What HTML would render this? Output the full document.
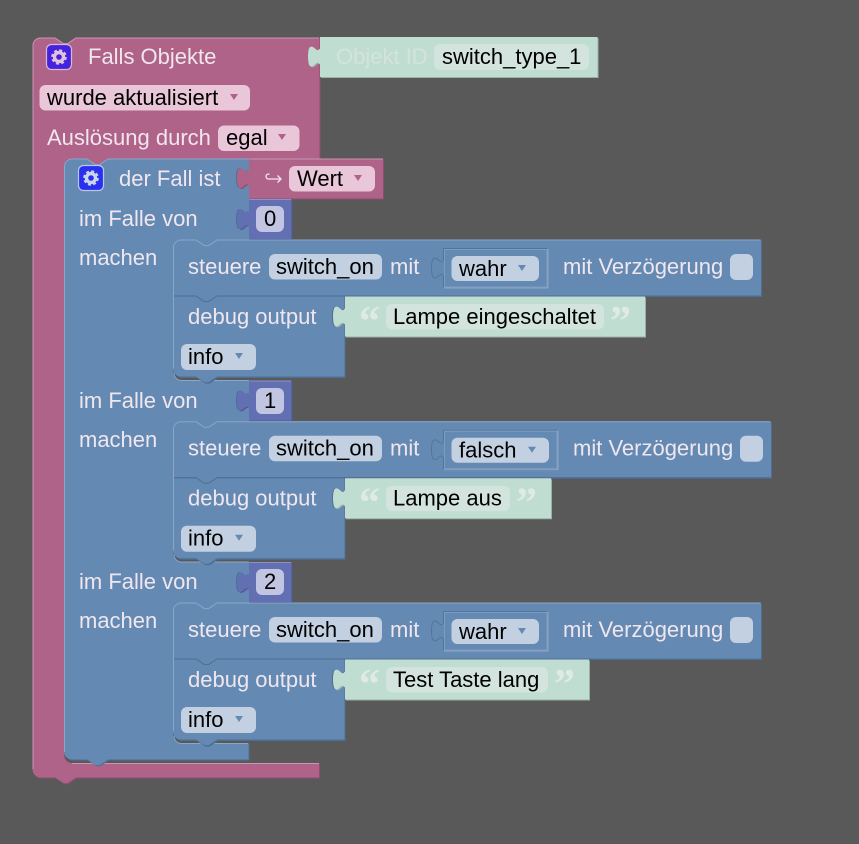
<!DOCTYPE html>
<html><head><meta charset="utf-8"><style>
html,body{margin:0;padding:0;background:#595959}
svg{display:block}
text{font-family:"Liberation Sans",sans-serif;font-size:22px}
.w{fill:#f0e6ee}
.k{fill:#000}
.b{fill:#648ab4}
.bd{fill:#4f6f92}
.bl{fill:none;stroke:#8ba6c6;stroke-width:1}
.ln{fill:none;stroke:#4f6f92;stroke-width:1}
.f{fill:#c3d0e1}
.tri{fill:#648ab4}
.m{fill:#c0ddd1}
.md{fill:#9ab1a7}
.mf{fill:#d3e3dd}
.q{font-family:"Liberation Serif",serif;font-size:42px;font-weight:bold;fill:#dfeae5}
</style></head><body>
<svg width="859" height="844" viewBox="0 0 859 844" xmlns="http://www.w3.org/2000/svg">
<rect width="859" height="844" fill="#595959"/>

<!-- outer pink -->
<path fill="#8c4e6e" transform="translate(1,1)" d="M32.5,45.5a8,8 0 0 1 8,-8H55l8.4,5.6h4.2L76,37.5H319.5V158.5H108l-8.4,5.6h-4.2L87,158.5H72a8,8 0 0 0 -8,8V755a8,8 0 0 0 8,8H319V777.5H76l-8.4,5.6h-4.2L55,777.5H40.5a8,8 0 0 1 -8,-8Z"/>
<path fill="#b06389" d="M32.5,45.5a8,8 0 0 1 8,-8H55l8.4,5.6h4.2L76,37.5H319.5V158.5H108l-8.4,5.6h-4.2L87,158.5H72a8,8 0 0 0 -8,8V755a8,8 0 0 0 8,8H319V777.5H76l-8.4,5.6h-4.2L55,777.5H40.5a8,8 0 0 1 -8,-8Z"/>
<path fill="none" stroke="#cb94b1" d="M33,769V45.5a7.5,7.5 0 0 1 7.500,-7.500H55l8.400,5.600h4.200L76,38H319M72,763.500H319"/>

<!-- icon -->
<rect x="46.5" y="44.5" width="25" height="25" rx="5" fill="#4422e0" stroke="#d8b9d2" stroke-width="1.2"/>
<circle cx="59" cy="57" r="4.5" fill="none" stroke="#dfc3da" stroke-width="3.4"/>
<circle cx="59" cy="57" r="6.8" fill="none" stroke="#dfc3da" stroke-width="2" stroke-dasharray="3 2.34"/>
<text x="88" y="64" class="w">Falls Objekte</text>

<!-- Objekt ID -->
<path fill="#9ab1a7" transform="translate(1,1)" d="M320,37H597.5V77H320V64.5c-2,-2.500 -3,-2 -5,0c-2,2 -4,2.500 -5.500,1c-2,-3 -2,-15 0,-18c1.500,-1.500 3.500,-1 5.500,1c2,2 3,2.500 5,0Z"/>
<path class="m" d="M320,37H597.5V77H320V64.5c-2,-2.500 -3,-2 -5,0c-2,2 -4,2.500 -5.500,1c-2,-3 -2,-15 0,-18c1.500,-1.500 3.500,-1 5.500,1c2,2 3,2.500 5,0Z"/>
<text x="336" y="64" fill="#d3e3dd">Objekt ID</text>
<rect x="434" y="44" width="155" height="26" rx="6" class="mf"/>
<text x="442" y="64" class="k">switch_type_1</text>

<!-- wurde aktualisiert -->
<rect x="39.5" y="85" width="210.500" height="25.500" rx="6" fill="#e9c6d8"/>
<text x="47" y="105" class="k">wurde aktualisiert</text>
<polygon points="230,94 238,94 234,100" fill="#b06389"/>
<text x="47" y="145" class="w">Auslösung durch</text>
<rect x="218" y="125.500" width="81.500" height="25.500" rx="6" fill="#e9c6d8"/>
<text x="226" y="145" class="k">egal</text>
<polygon points="278,134 286,134 282,140" fill="#b06389"/>

<!-- blue case block -->
<path class="bd" transform="translate(1,1)" d="M64,166.500a8,8 0 0 1 8,-8H87l8.400,5.600h4.200L108,158.500H249V239.500H217l-8.400,5.600h-4.200L196,239.500H181a8,8 0 0 0 -8,8V372a8,8 0 0 0 8,8H249V421.200H217l-8.400,5.600h-4.200L196,421.200H181a8,8 0 0 0 -8,8V553.500a8,8 0 0 0 8,8H249V602.500H217l-8.400,5.600h-4.200L196,602.500H181a8,8 0 0 0 -8,8V735a8,8 0 0 0 8,8H248.500V759.500H108l-8.400,5.600h-4.200L87,759.500H72a8,8 0 0 1 -8,-8Z"/>
<path class="b" d="M64,166.500a8,8 0 0 1 8,-8H87l8.400,5.600h4.200L108,158.500H249V239.500H217l-8.400,5.600h-4.200L196,239.500H181a8,8 0 0 0 -8,8V372a8,8 0 0 0 8,8H249V421.200H217l-8.400,5.600h-4.200L196,421.200H181a8,8 0 0 0 -8,8V553.500a8,8 0 0 0 8,8H249V602.500H217l-8.400,5.600h-4.200L196,602.500H181a8,8 0 0 0 -8,8V735a8,8 0 0 0 8,8H248.500V759.500H108l-8.400,5.600h-4.200L87,759.500H72a8,8 0 0 1 -8,-8Z"/>
<path class="bl" d="M64.500,752V166.500a7.500,7.500 0 0 1 7.500,-7.500H87l8.400,5.600h4.200L108,159H249M174,373a7.500,7.500 0 0 0 7.500,7.500H249M174,554.500a7.500,7.500 0 0 0 7.500,7.500H249M174,736a7.500,7.500 0 0 0 7.500,7.500H248"/>

<rect x="78.500" y="165.500" width="25" height="25" rx="5" fill="#2a30f0" stroke="#b8c8e4" stroke-width="1.200"/>
<circle cx="91" cy="178" r="4.500" fill="none" stroke="#c9d6ea" stroke-width="3.400"/>
<circle cx="91" cy="178" r="6.800" fill="none" stroke="#c9d6ea" stroke-width="2" stroke-dasharray="3 2.340"/>
<text x="119" y="186" class="w">der Fall ist</text>

<!-- Wert -->
<path class="bd" transform="translate(-1,0)" d="M249,158.500V186c-2,-2.500 -3,-2 -5,0c-2,2 -4,2.500 -5.500,1c-2,-3 -2,-15 0,-18c1.500,-1.500 3.500,-1 5.500,1c2,2 3,2.500 5,0Z"/>
<path fill="#8c4e6e" transform="translate(1,1)" d="M249,158.500H383V198.500H249V186c-2,-2.500 -3,-2 -5,0c-2,2 -4,2.500 -5.500,1c-2,-3 -2,-15 0,-18c1.500,-1.500 3.500,-1 5.500,1c2,2 3,2.500 5,0Z"/>
<path fill="#b06389" d="M249,158.500H383V198.500H249V186c-2,-2.500 -3,-2 -5,0c-2,2 -4,2.500 -5.500,1c-2,-3 -2,-15 0,-18c1.500,-1.500 3.500,-1 5.500,1c2,2 3,2.500 5,0Z"/>
<path d="M249.500,159H383" stroke="#cb94b1" fill="none"/>
<path d="M269.500,174h-1a2.500,2.500 0 0 0 0,5h12.500m-3.500,-3.500l3.500,3.500l-3.500,3.500" fill="none" stroke="#f0e6ee" stroke-width="1.300"/>
<rect x="289" y="166" width="86" height="25.500" rx="6" fill="#e9c6d8"/>
<text x="297" y="186" class="k">Wert</text>
<polygon points="354,175 362,175 358,181" fill="#b06389"/>

<text x="79" y="226" class="w">im Falle von</text>
<text x="79" y="265" class="w">machen</text>
<text x="79" y="408" class="w">im Falle von</text>
<text x="79" y="447" class="w">machen</text>
<text x="79" y="589" class="w">im Falle von</text>
<text x="79" y="628" class="w">machen</text>

<!-- number 0 -->
<path class="bd" transform="translate(-1,0)" d="M249,199V227c-2,-2.500 -3,-2 -5,0c-2,2 -4,2.500 -5.500,1c-2,-3 -2,-15 0,-18c1.500,-1.500 3.500,-1 5.500,1c2,2 3,2.500 5,0Z"/>
<path fill="#4e5890" transform="translate(1,1)" d="M249,199H291.500V239H249V227c-2,-2.500 -3,-2 -5,0c-2,2 -4,2.500 -5.500,1c-2,-3 -2,-15 0,-18c1.500,-1.500 3.500,-1 5.500,1c2,2 3,2.500 5,0Z"/>
<path fill="#636fb3" d="M249,199H291.500V239H249V227c-2,-2.500 -3,-2 -5,0c-2,2 -4,2.500 -5.500,1c-2,-3 -2,-15 0,-18c1.500,-1.500 3.500,-1 5.500,1c2,2 3,2.500 5,0Z"/>
<path d="M249.500,199.500H291" stroke="#8a93c8" fill="none"/>
<rect x="256" y="206" width="28" height="26" rx="6" fill="#c1c5e1"/>
<text x="264" y="226" class="k">0</text>
<!-- number 1 -->
<path class="bd" transform="translate(-1,0)" d="M249,380.500V408.500c-2,-2.500 -3,-2 -5,0c-2,2 -4,2.500 -5.500,1c-2,-3 -2,-15 0,-18c1.500,-1.500 3.500,-1 5.500,1c2,2 3,2.500 5,0Z"/>
<path fill="#4e5890" transform="translate(1,1)" d="M249,380.500H291.500V420.500H249V408.500c-2,-2.500 -3,-2 -5,0c-2,2 -4,2.500 -5.500,1c-2,-3 -2,-15 0,-18c1.500,-1.500 3.500,-1 5.500,1c2,2 3,2.500 5,0Z"/>
<path fill="#636fb3" d="M249,380.500H291.500V420.500H249V408.500c-2,-2.500 -3,-2 -5,0c-2,2 -4,2.500 -5.500,1c-2,-3 -2,-15 0,-18c1.500,-1.500 3.500,-1 5.500,1c2,2 3,2.500 5,0Z"/>
<path d="M249.500,381H291" stroke="#8a93c8" fill="none"/>
<rect x="256" y="388" width="28" height="26" rx="6" fill="#c1c5e1"/>
<text x="264" y="408" class="k">1</text>
<!-- number 2 -->
<path class="bd" transform="translate(-1,0)" d="M249,562V590c-2,-2.500 -3,-2 -5,0c-2,2 -4,2.500 -5.500,1c-2,-3 -2,-15 0,-18c1.500,-1.500 3.500,-1 5.500,1c2,2 3,2.500 5,0Z"/>
<path fill="#4e5890" transform="translate(1,1)" d="M249,562H291.500V602H249V590c-2,-2.500 -3,-2 -5,0c-2,2 -4,2.500 -5.500,1c-2,-3 -2,-15 0,-18c1.500,-1.500 3.500,-1 5.500,1c2,2 3,2.500 5,0Z"/>
<path fill="#636fb3" d="M249,562H291.500V602H249V590c-2,-2.500 -3,-2 -5,0c-2,2 -4,2.500 -5.500,1c-2,-3 -2,-15 0,-18c1.500,-1.500 3.500,-1 5.500,1c2,2 3,2.500 5,0Z"/>
<path d="M249.500,562.500H291" stroke="#8a93c8" fill="none"/>
<rect x="256" y="569" width="28" height="26" rx="6" fill="#c1c5e1"/>
<text x="264" y="589" class="k">2</text>

<!-- GROUP 1 -->
<g>
<path class="bd" transform="translate(1,1)" d="M173,296.500V369a8,8 0 0 0 8,8H196l8.400,5.600h4.200L217,377H344.500V296.500ZM173,296.500V247.500a8,8 0 0 1 8,-8H196l8.400,5.600h4.200L217,239.500H761V296H173Z"/>
<path class="b" d="M173,296.500H344.500V376.500H217l-8.400,5.600h-4.200L196,376.500H181a8,8 0 0 1 -8,-8Z"/>
<path class="b" d="M173,247.500a8,8 0 0 1 8,-8H196l8.400,5.600h4.200L217,239.500H761V295.500H217l-8.400,5.600h-4.200L196,295.500H173Z"/>
<path class="bl" d="M173.500,368.500V247.500a7.500,7.500 0 0 1 7.500,-7.500H196l8.400,5.600h4.200L217,240H760"/>
<path class="ln" d="M174,296H196l8.400,5.600h4.200L217,296H761"/>
<path class="bd" transform="translate(-1,0)" d="M345,296.500V324.500c-2,-2.500 -3,-2 -5,0c-2,2 -4,2.500 -5.500,1c-2,-3 -2,-15 0,-18c1.500,-1.500 3.500,-1 5.500,1c2,2 3,2.500 5,0Z"/>
<path class="md" transform="translate(1,1)" d="M345,296.500H645V336.500H345V324.500c-2,-2.500 -3,-2 -5,0c-2,2 -4,2.500 -5.500,1c-2,-3 -2,-15 0,-18c1.500,-1.500 3.500,-1 5.500,1c2,2 3,2.500 5,0Z"/>
<path class="m" d="M345,296.500H645V336.500H345V324.500c-2,-2.500 -3,-2 -5,0c-2,2 -4,2.500 -5.500,1c-2,-3 -2,-15 0,-18c1.500,-1.500 3.500,-1 5.500,1c2,2 3,2.500 5,0Z"/>
<text x="188" y="274" class="w">steuere</text>
<rect x="269" y="254" width="113" height="25.500" rx="6" class="f"/>
<text x="276" y="274" class="k">switch_on</text>
<text x="390" y="274" class="w">mit</text>
<path class="b" stroke="#54759b" d="M443.500,248.500H548V288H443.500V276c-2,-2.500 -3,-2 -5,0c-2,2 -4,2.500 -5.500,1c-2,-3 -2,-15 0,-18c1.500,-1.500 3.500,-1 5.500,1c2,2 3,2.500 5,0Z"/>
<path d="M548,248.500V288H443.500" fill="none" stroke="#8ba6c6"/>
<rect x="444.500" y="249.500" width="102.500" height="37.500" fill="none" stroke="#7e9cc0"/>
<rect x="451.500" y="256" width="87.500" height="25" rx="6" class="f"/>
<text x="459" y="276" class="k">wahr</text>
<polygon points="518,265 526,265 522,271" class="tri"/>
<text x="563" y="274" class="w">mit Verzögerung</text>
<rect x="730" y="254" width="23" height="26" rx="6" class="f"/>
<text x="188" y="324" class="w">debug output</text>
<rect x="386" y="304" width="218" height="25.500" rx="6" class="mf"/>
<text x="393" y="324" class="k">Lampe eingeschaltet</text>
<text x="359" y="335" class="q">“</text>
<text x="610" y="335" class="q">”</text>
<rect x="181" y="344" width="75" height="26" rx="6" class="f"/>
<text x="188" y="364" class="k">info</text>
<polygon points="235,353 243,353 239,359" class="tri"/>
</g>

<!-- GROUP 2 -->
<g transform="translate(0,181.700)">
<path class="bd" transform="translate(1,1)" d="M173,296.500V369a8,8 0 0 0 8,8H196l8.400,5.600h4.200L217,377H344.500V296.500ZM173,296.500V247.500a8,8 0 0 1 8,-8H196l8.400,5.600h4.200L217,239.500H771V296H173Z"/>
<path class="b" d="M173,296.500H344.500V376.500H217l-8.400,5.600h-4.200L196,376.500H181a8,8 0 0 1 -8,-8Z"/>
<path class="b" d="M173,247.500a8,8 0 0 1 8,-8H196l8.400,5.600h4.200L217,239.500H771V295.500H217l-8.400,5.600h-4.200L196,295.500H173Z"/>
<path class="bl" d="M173.500,368.500V247.500a7.500,7.500 0 0 1 7.500,-7.500H196l8.400,5.600h4.200L217,240H770"/>
<path class="ln" d="M174,296H196l8.400,5.600h4.200L217,296H771"/>
<path class="bd" transform="translate(-1,0)" d="M345,296.500V324.500c-2,-2.500 -3,-2 -5,0c-2,2 -4,2.500 -5.500,1c-2,-3 -2,-15 0,-18c1.500,-1.500 3.500,-1 5.500,1c2,2 3,2.500 5,0Z"/>
<path class="md" transform="translate(1,1)" d="M345,296.500H551V336.500H345V324.500c-2,-2.500 -3,-2 -5,0c-2,2 -4,2.500 -5.500,1c-2,-3 -2,-15 0,-18c1.500,-1.500 3.500,-1 5.500,1c2,2 3,2.500 5,0Z"/>
<path class="m" d="M345,296.500H551V336.500H345V324.500c-2,-2.500 -3,-2 -5,0c-2,2 -4,2.500 -5.500,1c-2,-3 -2,-15 0,-18c1.500,-1.500 3.500,-1 5.500,1c2,2 3,2.500 5,0Z"/>
<text x="188" y="274" class="w">steuere</text>
<rect x="269" y="254" width="113" height="25.500" rx="6" class="f"/>
<text x="276" y="274" class="k">switch_on</text>
<text x="390" y="274" class="w">mit</text>
<path class="b" stroke="#54759b" d="M443.500,248.500H558V288H443.500V276c-2,-2.500 -3,-2 -5,0c-2,2 -4,2.500 -5.500,1c-2,-3 -2,-15 0,-18c1.500,-1.500 3.500,-1 5.500,1c2,2 3,2.500 5,0Z"/>
<path d="M558,248.500V288H443.500" fill="none" stroke="#8ba6c6"/>
<rect x="444.500" y="249.500" width="112.500" height="37.500" fill="none" stroke="#7e9cc0"/>
<rect x="451.500" y="256" width="97.500" height="25" rx="6" class="f"/>
<text x="459" y="276" class="k">falsch</text>
<polygon points="528,265 536,265 532,271" class="tri"/>
<text x="573" y="274" class="w">mit Verzögerung</text>
<rect x="740" y="254" width="23" height="26" rx="6" class="f"/>
<text x="188" y="324" class="w">debug output</text>
<rect x="386" y="304" width="124" height="25.500" rx="6" class="mf"/>
<text x="393" y="324" class="k">Lampe aus</text>
<text x="359" y="335" class="q">“</text>
<text x="516" y="335" class="q">”</text>
<rect x="181" y="344" width="75" height="26" rx="6" class="f"/>
<text x="188" y="364" class="k">info</text>
<polygon points="235,353 243,353 239,359" class="tri"/>
</g>

<!-- GROUP 3 -->
<g transform="translate(0,363)">
<path class="bd" transform="translate(1,1)" d="M173,296.500V369a8,8 0 0 0 8,8H196l8.400,5.600h4.200L217,377H344.500V296.500ZM173,296.500V247.500a8,8 0 0 1 8,-8H196l8.400,5.600h4.200L217,239.500H761V296H173Z"/>
<path class="b" d="M173,296.500H344.500V376.500H217l-8.400,5.600h-4.200L196,376.500H181a8,8 0 0 1 -8,-8Z"/>
<path class="b" d="M173,247.500a8,8 0 0 1 8,-8H196l8.400,5.600h4.200L217,239.500H761V295.500H217l-8.400,5.600h-4.200L196,295.500H173Z"/>
<path class="bl" d="M173.500,368.500V247.500a7.500,7.500 0 0 1 7.500,-7.500H196l8.400,5.600h4.200L217,240H760"/>
<path class="ln" d="M174,296H196l8.400,5.600h4.200L217,296H761"/>
<path class="bd" transform="translate(-1,0)" d="M345,296.500V324.500c-2,-2.500 -3,-2 -5,0c-2,2 -4,2.500 -5.500,1c-2,-3 -2,-15 0,-18c1.500,-1.500 3.500,-1 5.500,1c2,2 3,2.500 5,0Z"/>
<path class="md" transform="translate(1,1)" d="M345,296.500H589V336.500H345V324.500c-2,-2.500 -3,-2 -5,0c-2,2 -4,2.500 -5.500,1c-2,-3 -2,-15 0,-18c1.500,-1.500 3.500,-1 5.500,1c2,2 3,2.500 5,0Z"/>
<path class="m" d="M345,296.500H589V336.500H345V324.500c-2,-2.500 -3,-2 -5,0c-2,2 -4,2.500 -5.500,1c-2,-3 -2,-15 0,-18c1.500,-1.500 3.500,-1 5.500,1c2,2 3,2.500 5,0Z"/>
<text x="188" y="274" class="w">steuere</text>
<rect x="269" y="254" width="113" height="25.500" rx="6" class="f"/>
<text x="276" y="274" class="k">switch_on</text>
<text x="390" y="274" class="w">mit</text>
<path class="b" stroke="#54759b" d="M443.500,248.500H548V288H443.500V276c-2,-2.500 -3,-2 -5,0c-2,2 -4,2.500 -5.500,1c-2,-3 -2,-15 0,-18c1.500,-1.500 3.500,-1 5.500,1c2,2 3,2.500 5,0Z"/>
<path d="M548,248.500V288H443.500" fill="none" stroke="#8ba6c6"/>
<rect x="444.500" y="249.500" width="102.500" height="37.500" fill="none" stroke="#7e9cc0"/>
<rect x="451.500" y="256" width="87.500" height="25" rx="6" class="f"/>
<text x="459" y="276" class="k">wahr</text>
<polygon points="518,265 526,265 522,271" class="tri"/>
<text x="563" y="274" class="w">mit Verzögerung</text>
<rect x="730" y="254" width="23" height="26" rx="6" class="f"/>
<text x="188" y="324" class="w">debug output</text>
<rect x="386" y="304" width="162" height="25.500" rx="6" class="mf"/>
<text x="393" y="324" class="k">Test Taste lang</text>
<text x="359" y="335" class="q">“</text>
<text x="554" y="335" class="q">”</text>
<rect x="181" y="344" width="75" height="26" rx="6" class="f"/>
<text x="188" y="364" class="k">info</text>
<polygon points="235,353 243,353 239,359" class="tri"/>
</g>
</svg>
</body></html>
